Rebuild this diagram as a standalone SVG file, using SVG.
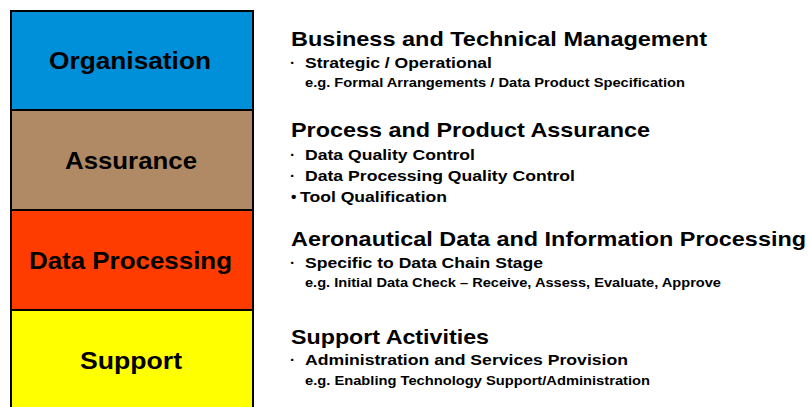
<svg xmlns="http://www.w3.org/2000/svg" width="811" height="407" viewBox="0 0 811 407">
<style>
text{font-family:"Liberation Sans",Arial,sans-serif;font-weight:bold;fill:#000}
.box{stroke:#000;stroke-width:2}
.lbl{font-size:24px}
.h{font-size:21px}
.b{font-size:15.5px}
.e{font-size:12.5px}
</style>
<rect width="811" height="407" fill="#fff"/>
<g id="organisation">
<rect class="box" x="11" y="11" width="242" height="99" fill="#0090DA"/>
<text class="lbl" x="49" y="69" textLength="162" lengthAdjust="spacingAndGlyphs">Organisation</text>
</g>
<g id="assurance">
<rect class="box" x="11" y="110" width="242" height="100" fill="#B08A64"/>
<text class="lbl" x="65" y="169" textLength="132" lengthAdjust="spacingAndGlyphs">Assurance</text>
</g>
<g id="data-processing">
<rect class="box" x="11" y="210" width="242" height="100" fill="#FF3C00"/>
<text class="lbl" x="29" y="269" textLength="203" lengthAdjust="spacingAndGlyphs">Data Processing</text>
</g>
<g id="support">
<rect class="box" x="11" y="310" width="242" height="110" fill="#FFFF00"/>
<text class="lbl" x="80" y="369" textLength="102" lengthAdjust="spacingAndGlyphs">Support</text>
</g>
<g id="desc-organisation">
<text class="h" x="291" y="46" textLength="416" lengthAdjust="spacingAndGlyphs">Business and Technical Management</text>
<text class="b" x="290" y="68">·</text>
<text class="b" x="305" y="68" textLength="187" lengthAdjust="spacingAndGlyphs">Strategic / Operational</text>
<text class="e" x="305" y="87" textLength="380" lengthAdjust="spacingAndGlyphs">e.g. Formal Arrangements  / Data  Product  Specification</text>
</g>
<g id="desc-assurance">
<text class="h" x="291" y="137" textLength="359" lengthAdjust="spacingAndGlyphs">Process and Product Assurance</text>
<text class="b" x="290" y="160">·</text>
<text class="b" x="305" y="160" textLength="170" lengthAdjust="spacingAndGlyphs">Data Quality  Control</text>
<text class="b" x="290" y="181">·</text>
<text class="b" x="305" y="181" textLength="270" lengthAdjust="spacingAndGlyphs">Data Processing Quality Control</text>
<text class="b" x="291" y="202">•</text>
<text class="b" x="300" y="202" textLength="147" lengthAdjust="spacingAndGlyphs">Tool Qualification</text>
</g>
<g id="desc-data-processing">
<text class="h" x="291" y="246" textLength="515" lengthAdjust="spacingAndGlyphs">Aeronautical Data and Information Processing</text>
<text class="b" x="290" y="268">·</text>
<text class="b" x="305" y="268" textLength="238" lengthAdjust="spacingAndGlyphs">Specific to Data Chain Stage</text>
<text class="e" x="305" y="287" textLength="416" lengthAdjust="spacingAndGlyphs">e.g. Initial Data  Check – Receive,  Assess,  Evaluate,  Approve</text>
</g>
<g id="desc-support">
<text class="h" x="291" y="344" textLength="198" lengthAdjust="spacingAndGlyphs">Support Activities</text>
<text class="b" x="290" y="365">·</text>
<text class="b" x="305" y="365" textLength="323" lengthAdjust="spacingAndGlyphs">Administration  and Services Provision</text>
<text class="e" x="305" y="385" textLength="345" lengthAdjust="spacingAndGlyphs">e.g. Enabling Technology  Support/Administration</text>
</g>
<g id="connectors"></g>
</svg>
